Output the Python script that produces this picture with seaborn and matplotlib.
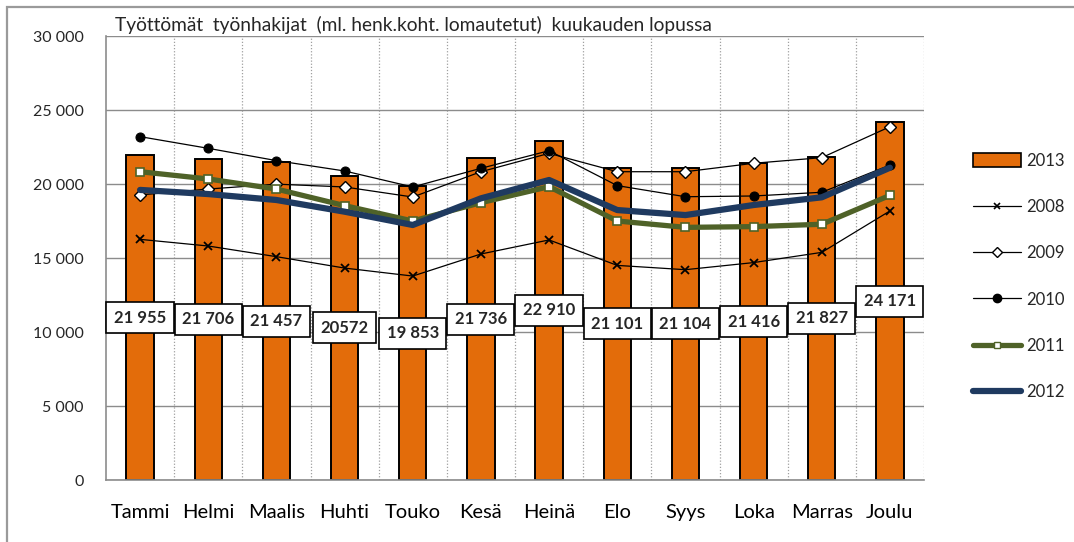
import numpy as np
import pandas as pd
import seaborn as sns
import matplotlib.pyplot as plt
from matplotlib.patches import Patch, Rectangle
from matplotlib.lines import Line2D
from matplotlib.ticker import FuncFormatter, MultipleLocator

# Monthly unemployed job seekers (end of month)
months = ['Tammi', 'Helmi', 'Maalis', 'Huhti', 'Touko', 'Kesä',
          'Heinä', 'Elo', 'Syys', 'Loka', 'Marras', 'Joulu']
y2013 = [21955, 21706, 21457, 20572, 19853, 21736, 22910, 21101, 21104, 21416, 21827, 24171]
labels2013 = ['21 955', '21 706', '21 457', '20572', '19 853', '21 736',
              '22 910', '21 101', '21 104', '21 416', '21 827', '24 171']
y2008 = [16260, 15810, 15090, 14320, 13780, 15270, 16220, 14500, 14210, 14690, 15380, 18180]
y2009 = [19260, 19660, 19990, 19800, 19120, 20830, 22070, 20830, 20830, 21400, 21780, 23870]
y2010 = [23200, 22410, 21580, 20880, 19800, 21060, 22250, 19890, 19140, 19190, 19440, 21280]
y2011 = [20830, 20340, 19660, 18540, 17500, 18740, 19820, 17500, 17070, 17120, 17280, 19230]
y2012 = [19600, 19320, 18920, 18130, 17230, 19030, 20270, 18240, 17900, 18580, 19100, 21100]

df = pd.DataFrame({'kuukausi': months, 'arvo': y2013})

sns.set_style('white')
plt.rcParams['font.family'] = ['Lato', 'DejaVu Sans']

fig = plt.figure(figsize=(10.74, 5.42), dpi=100)
ax = fig.add_axes([106 / 1074, 62 / 542, 818 / 1074, 444 / 542])

orange = '#E36C0A'
green = '#4F6228'
navy = '#1F3A60'
grid_gray = '#8C8C8C'

sns.barplot(data=df, x='kuukausi', y='arvo', color=orange, width=0.4,
            edgecolor='black', linewidth=1.4, saturation=1, ax=ax, zorder=2)

pos = np.arange(len(months))
sns.lineplot(x=pos, y=y2008, color='black', lw=0.9, marker='x', ms=6, mew=1.3,
             mec='black', ax=ax, zorder=4)
sns.lineplot(x=pos, y=y2009, color='black', lw=0.9, marker='D', ms=6,
             mfc='white', mec='black', mew=1.0, ax=ax, zorder=4)
sns.lineplot(x=pos, y=y2010, color='black', lw=0.9, marker='o', ms=6.5,
             mfc='black', mec='black', ax=ax, zorder=4)
sns.lineplot(x=pos, y=y2011, color=green, lw=3.8, marker='s', ms=6,
             mfc='white', mec=green, mew=1.2, ax=ax, zorder=5)
sns.lineplot(x=pos, y=y2012, color=navy, lw=4.5, ax=ax, zorder=6)

# data labels in white boxes at bar middles
for i, (v, t) in enumerate(zip(y2013, labels2013)):
    ax.text(i, v / 2, t, ha='center', va='center', fontsize=12,
            fontweight='bold', zorder=7,
            bbox=dict(boxstyle='square,pad=0.45', fc='white', ec='black', lw=1.2))

ax.set_xlim(-0.5, 11.5)
ax.set_ylim(0, 30000)
ax.yaxis.set_major_locator(MultipleLocator(5000))
ax.yaxis.set_major_formatter(FuncFormatter(lambda v, p: f'{int(v):,}'.replace(',', ' ')))
ax.set_xlabel('')
ax.set_ylabel('')

ax.grid(axis='y', color=grid_gray, lw=1.0, zorder=0)
ax.set_axisbelow(True)
ax.set_xticks(np.arange(-0.5, 12, 1), minor=True)
for b in np.arange(0.5, 11.6, 1):
    ax.axvline(b, color='#A0A0A0', lw=0.9, ls=(0, (1, 1.5)), zorder=0)

ax.tick_params(axis='x', which='major', length=0, labelsize=14.5, pad=17, colors='black')
ax.tick_params(axis='x', which='minor', length=7, width=1.2, color=grid_gray, direction='out')
ax.tick_params(axis='y', length=6, width=1.2, color=grid_gray, labelsize=11.5, pad=10, direction='out')

for s in ['top', 'right']:
    ax.spines[s].set_visible(False)
for s in ['left', 'bottom']:
    ax.spines[s].set_color(grid_gray)
    ax.spines[s].set_linewidth(1.2)

fig.text(115 / 1074, 1 - 25 / 542, 'Työttömät  työnhakijat  (ml. henk.koht. lomautetut)  kuukauden lopussa',
         fontsize=13.8, va='center', ha='left')

# outer frame
fig.add_artist(Rectangle((7 / 1074, -0.2), 1.2, 1.2 - 7 / 542, transform=fig.transFigure,
                         fill=False, ec='#9A9A9A', lw=1.6, clip_on=False))

handles = [
    Patch(fc=orange, ec='black', lw=1.2),
    Line2D([], [], color='black', lw=0.9, marker='x', ms=5, mew=1.2),
    Line2D([], [], color='black', lw=0.9, marker='D', ms=5, mfc='white', mec='black'),
    Line2D([], [], color='black', lw=0.9, marker='o', ms=6, mfc='black'),
    Line2D([], [], color=green, lw=3.8, marker='s', ms=5, mfc='white', mec=green),
    Line2D([], [], color=navy, lw=4.5),
]
names = ['2013', '2008', '2009', '2010', '2011', '2012']
fig.legend(handles, names, loc='upper left', bbox_to_anchor=(966 / 1074, 1 - 146 / 542),
           frameon=False, fontsize=12, handlelength=2.9, handleheight=0.9,
           labelspacing=1.82, handletextpad=0.3, borderaxespad=0)

fig.savefig('out.png', dpi=100)
